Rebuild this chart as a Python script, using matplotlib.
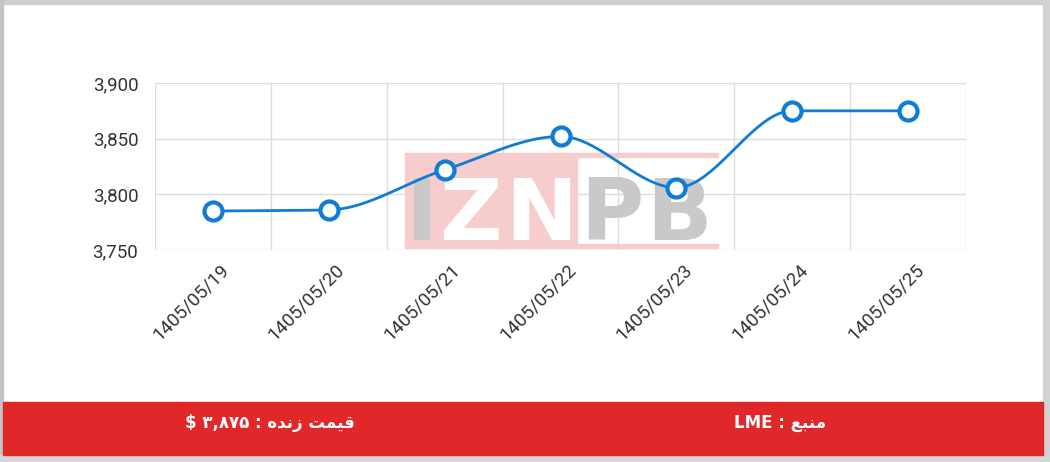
import numpy as np
import matplotlib.pyplot as plt
from matplotlib.patches import Rectangle
from matplotlib.transforms import ScaledTranslation

# داده ها
dates = ['1405/05/19', '1405/05/20', '1405/05/21', '1405/05/22',
         '1405/05/23', '1405/05/24', '1405/05/25']
prices = [3785, 3786, 3822, 3852, 3806, 3875, 3875]
y_ticks = [3750, 3800, 3850, 3900]

# footer texts (visual order, Arabic presentation forms)
live_price = '$ \u06f3,\u06f8\u06f7\u06f5 : \ufee9\ufeaa\ufee7\ufeaf \ufe96\ufee4\ufef4\ufed7'
source = 'LME : \ufeca\ufe92\ufee8\ufee3'

line_color = '#0f7dd6'
red = '#e0282b'


def monotone(xs, ys, n=40):
    # Fritsch-Carlson monotone cubic, only for drawing the smooth line
    xs = np.asarray(xs, float)
    ys = np.asarray(ys, float)
    h = np.diff(xs)
    d = np.diff(ys) / h
    m = np.zeros_like(ys)
    m[0], m[-1] = d[0], d[-1]
    for i in range(1, len(ys) - 1):
        if d[i - 1] * d[i] <= 0:
            m[i] = 0
        else:
            m[i] = 2 / (1 / d[i - 1] + 1 / d[i])
    px, py = [], []
    for i in range(len(h)):
        t = np.linspace(0, 1, n)
        h00 = 2 * t**3 - 3 * t**2 + 1
        h10 = t**3 - 2 * t**2 + t
        h01 = -2 * t**3 + 3 * t**2
        h11 = t**3 - t**2
        px.extend(xs[i] + t * h[i])
        py.extend(h00 * ys[i] + h10 * h[i] * m[i] + h01 * ys[i + 1] + h11 * h[i] * m[i + 1])
    return px, py


fig = plt.figure(figsize=(10.5, 4.62), dpi=100)
fig.patch.set_facecolor('white')

# frame + footer bar
fig.patches.append(Rectangle((0, 1 - 4 / 462), 1, 4 / 462, transform=fig.transFigure,
                             color='#cfcfcf', zorder=0))
fig.patches.append(Rectangle((0, 0), 3 / 1050, 1, transform=fig.transFigure,
                             color='#c4c4c4', zorder=0))
fig.patches.append(Rectangle((1043 / 1050, 0), 7 / 1050, 1, transform=fig.transFigure,
                             color='#d2d2d2', zorder=0))
fig.patches.append(Rectangle((0, 0), 1, 7 / 462, transform=fig.transFigure,
                             color='#d6d6d6', zorder=0))
fig.patches.append(Rectangle((3 / 1050, 7 / 462), 1040 / 1050, 53 / 462,
                             transform=fig.transFigure, color=red, zorder=1))

fig.text(270 / 1050, 1 - 423 / 462, live_price, color='white', fontsize=12,
         fontweight='bold', ha='center', va='center', family=['DejaVu Sans'])
fig.text(780 / 1050, 1 - 423 / 462, source, color='white', fontsize=12,
         fontweight='bold', ha='center', va='center', family=['DejaVu Sans'])

ax = fig.add_axes([155 / 1050, 1 - 250 / 462, 811 / 1050, 167 / 462])
x = np.arange(len(dates))
ax.set_xlim(-0.5, len(dates) - 0.5)
ax.set_ylim(3750, 3900)
ax.set_yticks(y_ticks)
ax.set_yticklabels([f'{v:,}' for v in y_ticks])
ax.set_xticks(x)
ax.set_xticklabels(dates, rotation=45, ha='right', va='center', rotation_mode='anchor')
ax.set_xticks(np.arange(len(dates) + 1) - 0.5, minor=True)
ax.grid(True, which='minor', axis='x', color='#dcdcdc', lw=1)
ax.grid(True, which='major', axis='y', color='#dcdcdc', lw=1)
ax.tick_params(axis='both', which='both', length=0, labelsize=13.5, colors='#333333')
ax.tick_params(axis='y', pad=12)
for lab in ax.get_yticklabels() + ax.get_xticklabels():
    lab.set_family(['Roboto', 'DejaVu Sans'])
off = ScaledTranslation(0.13, -0.12, fig.dpi_scale_trans)
for lab in ax.get_xticklabels():
    lab.set_transform(lab.get_transform() + off)
for s in ax.spines.values():
    s.set_visible(False)
ax.set_axisbelow(True)

# watermark
wm = ax.transAxes
pink = '#f6cccc'
ax.add_patch(Rectangle((0.308, 0.557), 0.386, 0.024, transform=wm, color=pink, zorder=1))
ax.add_patch(Rectangle((0.308, 0.012), 0.386, 0.024, transform=wm, color=pink, zorder=1))
ax.add_patch(Rectangle((0.308, 0.03), 0.212, 0.53, transform=wm, color=pink, zorder=1))
for ch, px, col in [('I', 421, '#c9c9c9'), ('Z', 470, 'white'), ('N', 541, 'white'),
                    ('P', 612, '#c9c9c9'), ('B', 679, '#c9c9c9')]:
    ax.text((px - 155) / 811, 0.06, ch, transform=wm, ha='center', va='baseline',
            fontsize=62, fontweight='bold', color=col,
            family=['DejaVu Sans'], zorder=2)

sx, sy = monotone(x, prices)
ax.plot(sx, sy, color=line_color, lw=2, zorder=3, solid_capstyle='round')
ax.plot(x, prices, 'o', ms=13, mfc='white', mec=line_color, mew=3, zorder=4)

fig.savefig('out.png', dpi=100)
